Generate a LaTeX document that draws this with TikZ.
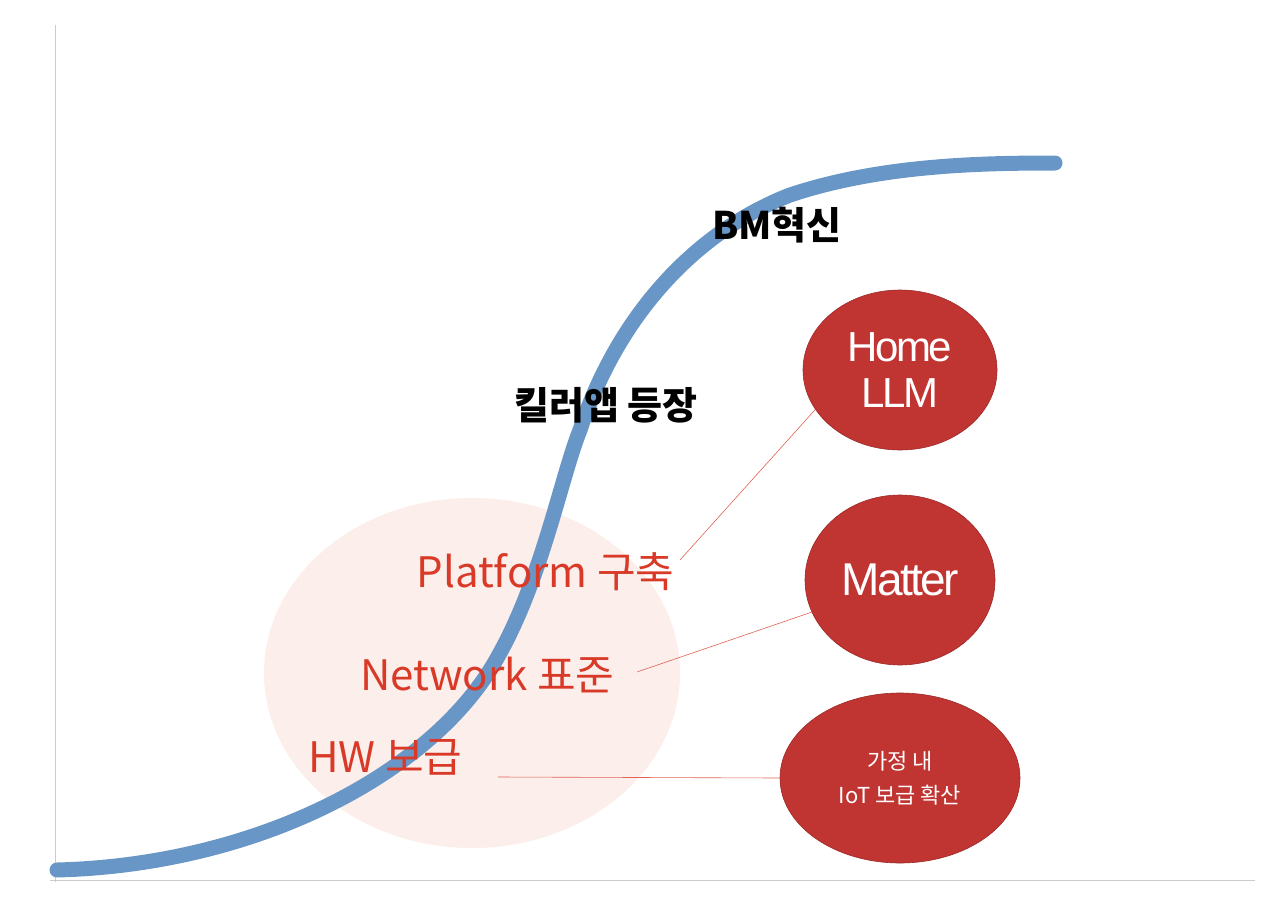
\documentclass[tikz,border=0pt]{standalone}
\usepackage{fontspec}
\usetikzlibrary{shapes.geometric}
\setmainfont{Noto Sans CJK KR}
\newfontfamily\hel{Liberation Sans}[LetterSpace=-6]
\definecolor{curve}{RGB}{104,150,198}
\definecolor{dred}{RGB}{192,52,50}
\definecolor{lred}{RGB}{217,58,40}
\definecolor{pinkbg}{RGB}{252,238,235}
\begin{document}
\begin{tikzpicture}[x=1pt,y=-1pt,
  lab/.style={font=\bfseries\fontsize{38}{40}\selectfont},
  rlab/.style={font=\fontsize{42}{44}\selectfont,text=lred},
  bub/.style={ellipse,fill=dred,draw=dred!80!black,line width=0.6pt,text=white,align=center,inner sep=0pt},
  lead/.style={draw=lred!80,line width=0.6pt}]
\useasboundingbox (0,0) rectangle (1280,910);
\draw[gray!40,line width=0.8pt] (55,25) -- (55,882) (50,880) -- (1255,880);
\fill[pinkbg] (472,673) ellipse [x radius=208, y radius=175];
\draw[curve,line width=15pt,line cap=round] (57,870) .. controls (250,865) and (420,780) .. (490,670)
  .. controls (540,590) and (560,480) .. (580,430)
  .. controls (620,310) and (700,230) .. (790,195)
  .. controls (880,165) and (980,163) .. (1055,163);
\node[lab] (bm) at (777,225) {BM혁신};
\node[lab] (kill) at (606,405) {킬러앱 등장};
\node[rlab,anchor=east] (plat) at (678,572) {Platform 구축};
\node[rlab,anchor=east] (net) at (618,675) {Network 표준};
\node[rlab,anchor=east] (hw) at (466,757) {HW 보급};
\node[bub,minimum width=194pt,minimum height=160pt,font=\hel\fontsize{42}{46}\selectfont] (home) at (900,370) {Home\\LLM};
\node[bub,minimum width=190pt,minimum height=170pt,font=\hel\fontsize{46}{48}\selectfont] (matter) at (900,580) {Matter};
\node[bub,minimum width=240pt,minimum height=170pt,font=\fontsize{22}{34}\selectfont] (iot) at (900,778) {가정 내\\IoT 보급 확산};
\coordinate (p1) at (680,560); \coordinate (p2) at (637,672); \coordinate (p3) at (498,777);
\draw[lead] (p1) -- (home.205);
\draw[lead] (p2) -- (matter.200);
\draw[lead] (p3) -- (iot.west);
\end{tikzpicture}
\end{document}
